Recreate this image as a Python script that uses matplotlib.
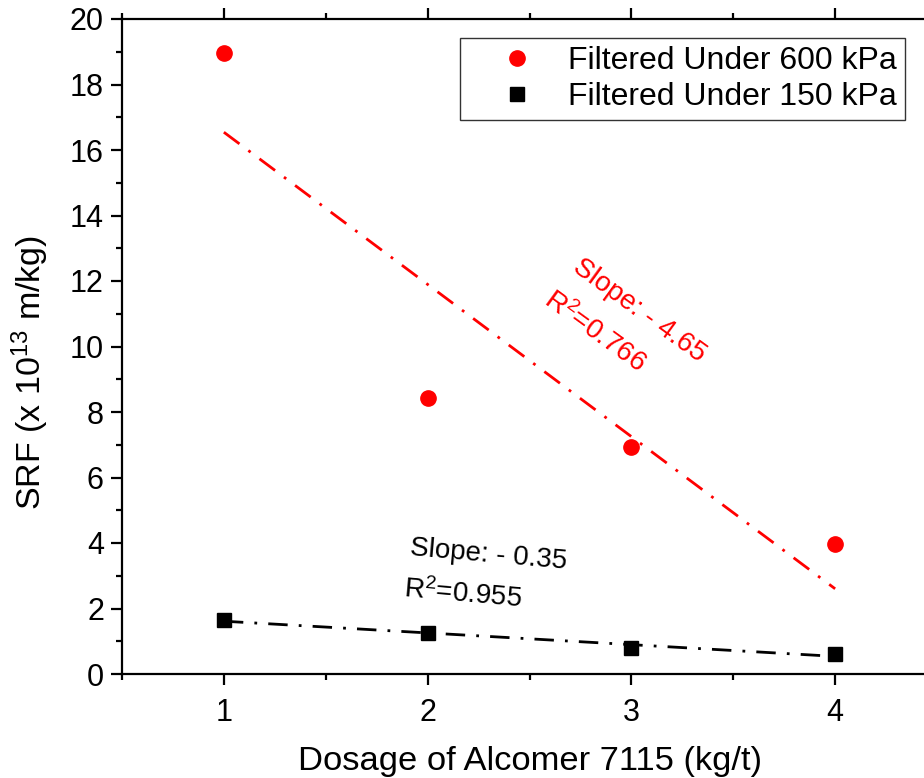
import matplotlib.pyplot as plt
import numpy as np
from matplotlib.ticker import MultipleLocator

plt.rcParams['font.family'] = ['Liberation Sans', 'DejaVu Sans']
plt.rcParams['mathtext.fontset'] = 'custom'
plt.rcParams['mathtext.rm'] = 'Liberation Sans'
plt.rcParams['mathtext.it'] = 'Liberation Sans:italic'

# data
dosage = [1, 2, 3, 4]
srf_600 = [18.96, 8.43, 6.93, 3.97]
srf_150 = [1.65, 1.25, 0.79, 0.61]
label_600 = "Filtered Under 600 kPa"
label_150 = "Filtered Under 150 kPa"

fig = plt.figure(figsize=(9.24, 7.78), dpi=100)
# right spine sits just outside the picture in the reference
ax = fig.add_axes([122 / 924, 1 - 674 / 778, 815 / 924, 655 / 778])

x = np.array(dosage)

# linear fits
k6, b6 = np.polyfit(x, srf_600, 1)
k1, b1 = np.polyfit(x, srf_150, 1)
ax.plot(x, k6 * x + b6, color='red', lw=2, ls=(0, (7, 4, 1, 4)), zorder=2)
ax.plot(x, k1 * x + b1, color='black', lw=2, ls=(0, (7, 4, 1, 4)), zorder=2)

ax.plot(dosage, srf_600, 'o', color='red', ms=11, label=label_600, zorder=3)
ax.plot(dosage, srf_150, 's', color='black', ms=9.5, label=label_150, zorder=3)

ax.text(3.04, 11.1, "Slope: - 4.65", color='red', fontsize=20,
        rotation=-36, ha='center', va='center')
ax.text(2.82, 10.45, "R$^2$=0.766", color='red', fontsize=20,
        rotation=-36, ha='center', va='center')
ax.text(2.30, 3.63, "Slope: - 0.35", color='black', fontsize=20,
        rotation=-5, ha='center', va='center')
ax.text(2.175, 2.42, "R$^2$=0.955", color='black', fontsize=20,
        rotation=-5, ha='center', va='center')

ax.set_xlim(0.5, 4.5)
ax.set_ylim(0, 20)
ax.xaxis.set_major_locator(MultipleLocator(1))
ax.xaxis.set_minor_locator(MultipleLocator(0.5))
ax.yaxis.set_major_locator(MultipleLocator(2))
ax.yaxis.set_minor_locator(MultipleLocator(1))

for s in ax.spines.values():
    s.set_linewidth(1.6)
ax.tick_params(which='major', direction='out', length=8, width=1.6,
               labelsize=22, top=True, pad=5)
ax.tick_params(which='minor', direction='out', length=4.5, width=1.6, top=True)
ax.tick_params(axis='x', pad=9)

ax.set_xlabel("Dosage of Alcomer 7115 (kg/t)", fontsize=24.8, labelpad=13)
ax.set_ylabel("SRF (x 10$^{13}$ m/kg)", fontsize=24.5)
ax.yaxis.set_label_coords(-0.087, 0.461)

leg = ax.legend(loc='upper right', bbox_to_anchor=(0.961, 0.971), fontsize=23,
                frameon=True, fancybox=False, edgecolor='black',
                borderpad=0.25, handletextpad=0.06, labelspacing=0.2,
                borderaxespad=0, handlelength=3.1)
leg.get_frame().set_linewidth(1.0)

fig.savefig("out.png", dpi=100)
